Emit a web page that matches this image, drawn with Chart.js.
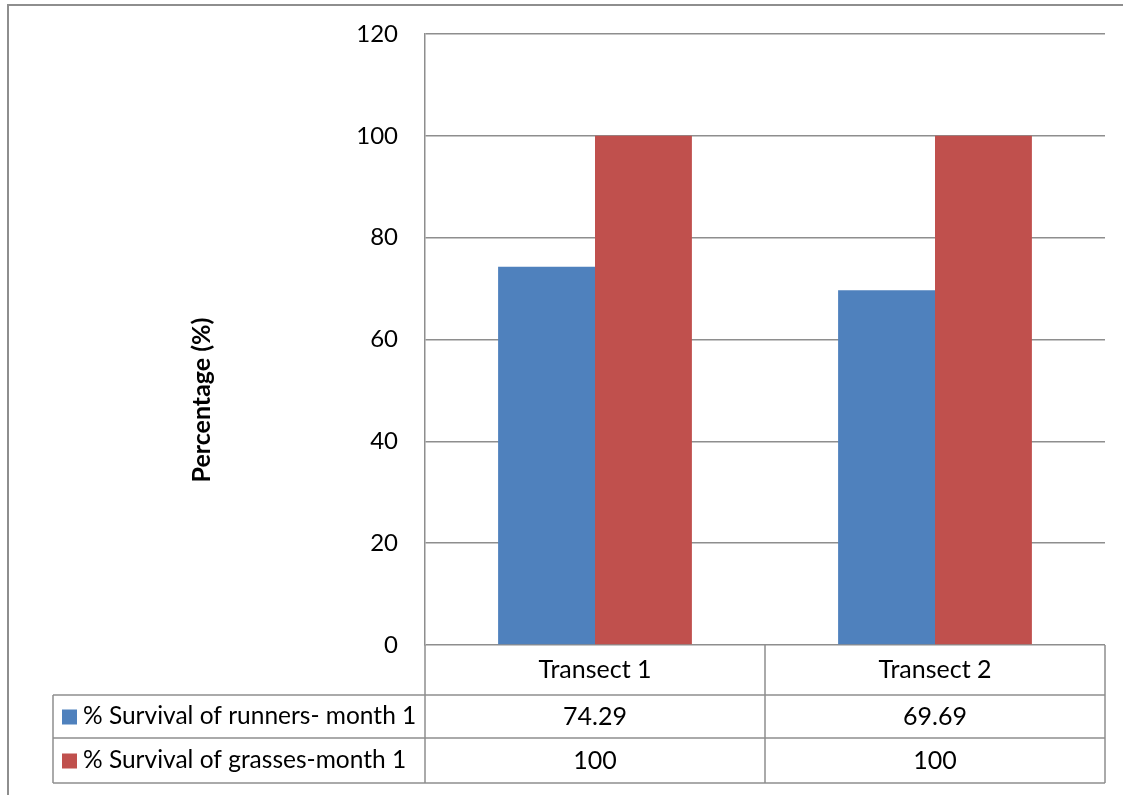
<!DOCTYPE html>
<html>
<head>
<meta charset="utf-8">
<script src="https://cdn.jsdelivr.net/npm/chart.js@4/dist/chart.umd.min.js"></script>
<style>
  html, body { margin: 0; padding: 0; background: #fff; overflow: hidden; }
  #wrap { width: 1123px; height: 795px; }
</style>
</head>
<body>
<div id="wrap"><canvas id="c" width="1123" height="795"></canvas></div>
<script>
// Survival data per transect
const categories = ['Transect 1', 'Transect 2'];
const runnersSurvival = [74.29, 69.69];
const grassesSurvival = [100, 100];
const seriesNames = ['% Survival of runners- month 1', '% Survival of grasses-month 1'];
const seriesColors = ['#4F81BD', '#C0504D'];
const yTitle = 'Percentage (%)';
const yMin = 0, yMax = 120, yStep = 20;

const FONT = 'Lato, "Open Sans", sans-serif';
const LINE = '#8e8e8e';

// Outer frame, rotated axis title and the data table under the plot
const tablePlugin = {
  id: 'dataTable',
  beforeDraw(chart) {
    const ctx = chart.ctx;
    ctx.save();
    ctx.strokeStyle = LINE;
    ctx.lineWidth = 2;
    ctx.beginPath();
    ctx.moveTo(8, 800);
    ctx.lineTo(8, 5);
    ctx.lineTo(1130, 5);
    ctx.stroke();
    ctx.restore();
  },
  afterDraw(chart) {
    const { ctx, chartArea, scales } = chart;
    const x = scales.x;
    const left = chartArea.left, right = chartArea.right;
    const top = chartArea.bottom;
    const headerBottom = top + 50;
    const row1Bottom = headerBottom + 43;
    const row2Bottom = row1Bottom + 45;
    const tableLeft = 53;
    const catW = (right - left) / categories.length;
    const colEdges = [left];
    categories.forEach((c, i) => colEdges.push(x.getPixelForValue(i) + catW / 2));

    ctx.save();
    ctx.strokeStyle = LINE;
    ctx.lineWidth = 1.5;
    ctx.beginPath();
    // horizontal rules
    ctx.moveTo(tableLeft, headerBottom); ctx.lineTo(right, headerBottom);
    ctx.moveTo(tableLeft, row1Bottom); ctx.lineTo(right, row1Bottom);
    ctx.moveTo(tableLeft, row2Bottom); ctx.lineTo(right, row2Bottom);
    // vertical rules
    colEdges.forEach(e => { ctx.moveTo(e, top); ctx.lineTo(e, row2Bottom); });
    ctx.moveTo(tableLeft, headerBottom); ctx.lineTo(tableLeft, row2Bottom);
    ctx.stroke();

    ctx.fillStyle = '#000';
    ctx.font = '25px ' + FONT;
    ctx.textAlign = 'center';
    ctx.textBaseline = 'middle';
    categories.forEach((c, i) => {
      const cx = x.getPixelForValue(i);
      ctx.fillText(c, cx, (top + headerBottom) / 2);
      ctx.fillText(String(runnersSurvival[i]), cx, (headerBottom + row1Bottom) / 2);
      ctx.fillText(String(grassesSurvival[i]), cx, (row1Bottom + row2Bottom) / 2);
    });

    // legend keys in the row headers
    const rows = [[headerBottom, row1Bottom], [row1Bottom, row2Bottom]];
    ctx.textAlign = 'left';
    ctx.font = '24.5px ' + FONT;
    rows.forEach(([a, b], k) => {
      const cy = (a + b) / 2;
      ctx.fillStyle = seriesColors[k];
      ctx.fillRect(62, cy - 7, 15, 15);
      ctx.fillStyle = '#000';
      ctx.fillText(seriesNames[k], 83, cy);
    });

    // y axis title
    ctx.save();
    ctx.translate(202, 400);
    ctx.rotate(-Math.PI / 2);
    ctx.textAlign = 'center';
    ctx.font = 'bold 25px ' + FONT;
    ctx.fillText(yTitle, 0, 0);
    ctx.restore();
    ctx.restore();
  }
};

new Chart(document.getElementById('c'), {
  type: 'bar',
  data: {
    labels: categories,
    datasets: [
      { label: seriesNames[0], data: runnersSurvival, backgroundColor: seriesColors[0] },
      { label: seriesNames[1], data: grassesSurvival, backgroundColor: seriesColors[1] }
    ]
  },
  options: {
    responsive: false,
    animation: false,
    devicePixelRatio: 1,
    layout: { padding: { left: 0, right: 18, top: 34, bottom: 150 } },
    plugins: { legend: { display: false }, tooltip: { enabled: false } },
    datasets: { bar: { barPercentage: 1, categoryPercentage: 0.57 } },
    scales: {
      x: {
        ticks: { display: false },
        grid: { display: false, drawTicks: false },
        border: { display: false }
      },
      y: {
        min: yMin, max: yMax,
        afterFit(scale) {
          scale.width = 425;
          // labels sit inside the outer padding, no extra overhang
          scale.paddingTop = 0;
          scale.paddingBottom = 0;
        },
        ticks: { stepSize: yStep, padding: 27, color: '#000', font: { family: FONT, size: 24 } },
        grid: { color: LINE, lineWidth: 1.5, drawTicks: false },
        border: { color: LINE, width: 1.5 }
      }
    }
  },
  plugins: [tablePlugin]
});
</script>
</body>
</html>
